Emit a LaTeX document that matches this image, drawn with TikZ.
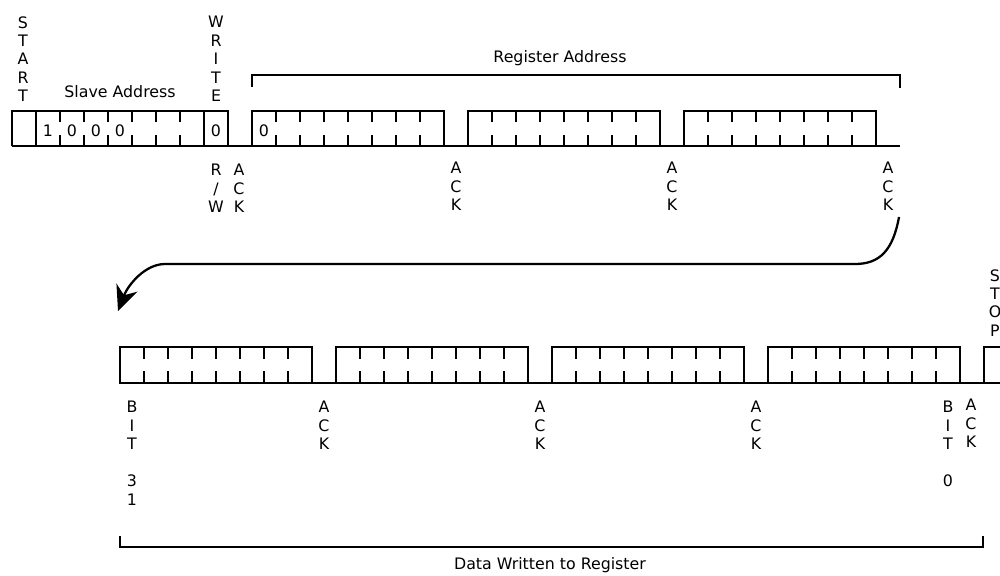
\documentclass[tikz,border=0pt]{standalone}
\usepackage{fontspec}
\setmainfont{DejaVu Sans}
\usetikzlibrary{arrows.meta}

\begin{document}
\begin{tikzpicture}[x=0.02cm,y=-0.02cm,line width=1.5pt,
    lbl/.style={inner sep=0pt,font=\fontsize{9}{10.5}\selectfont},
    vert/.style={lbl,align=center,anchor=north},
    bitval/.style={lbl}]
  \useasboundingbox (0,0) rectangle (1000,575);

  % first line: address phase
  \begin{scope}
    \draw (12,146) -- (900,146);
    \draw (12,146) -- (12,111) -- (228,111) -- (228,146);
    \foreach \x in {36, 204}
      \draw (\x,111) -- (\x,146);
    \foreach \x in {60, 84, ..., 180} {
      \draw (\x,111) -- (\x,122);
      \draw (\x,135) -- (\x,146);
    }

    % Register address bytes
    \foreach \s in {252, 468, 684} {
      \draw (\s,146) rectangle (\s+192,111);
      \foreach \k in {1,...,7} {
        \draw (\s+24*\k,111) -- (\s+24*\k,122);
        \draw (\s+24*\k,135) -- (\s+24*\k,146);
      }
    }

    % Bit values
    \node[bitval] (b1) at (48,131) {1};
    \node[bitval] (b2) at (72,131) {0};
    \node[bitval] (b3) at (96,131) {0};
    \node[bitval] (b4) at (120,131) {0};
    \node[bitval] (rw) at (216,131) {0};
    \node[bitval] (r0) at (264,131) {0};

    % Labels above
    \node[vert] (start) at (23,15) {S\\T\\A\\R\\T};
    \node[vert] (write) at (216,15) {W\\R\\I\\T\\E};
    \node[lbl] (slave) at (120,92) {Slave Address};
    \node[lbl] (regaddr) at (560,58) {Register Address};
    \draw (252,87) -- (252,75) -- (900,75) -- (900,88);

    % Labels below
    \node[vert] (rwlbl) at (216,163) {R\\/\\W};
    \node[vert] (ack0) at (239,163) {A\\C\\K};
    \foreach \x/\n in {456/1, 672/2, 888/3}
      \node[vert] (ack\n) at (\x,161) {A\\C\\K};
  \end{scope}

  % carry over to the second line
  \coordinate (turn) at (899,217);
  \coordinate (land) at (118,311);
  \draw[line width=1.3pt,-{Stealth[length=5mm,width=4.5mm]}] (turn)
    .. controls (893,250) and (880,264) .. (855,264) -- (165,264)
    .. controls (145,264) and (128,285) .. (land);

  % second line: data phase
  \begin{scope}
    \draw (120,383) -- (1000,383);
    \foreach \s in {120, 336, 552, 768} {
      \draw (\s,383) rectangle (\s+192,347);
      \foreach \k in {1,...,7} {
        \draw (\s+24*\k,347) -- (\s+24*\k,359);
        \draw (\s+24*\k,371) -- (\s+24*\k,383);
      }
    }
    \draw (984,383) -- (984,347) -- (1000,347);

    % Labels
    \node[vert] (stop) at (995,268) {S\\T\\O\\P};
    \node[vert] (bit31) at (132,400) {B\\I\\T\\ \\3\\1};
    \foreach \x/\n in {324/4, 540/5, 756/6}
      \node[vert] (ack\n) at (\x,400) {A\\C\\K};
    \node[vert] (bit0) at (948,400) {B\\I\\T\\ \\0};
    \node[vert] (ack7) at (971,398) {A\\C\\K};

    \draw (120,536) -- (120,547) -- (983,547) -- (983,536);
    \node[lbl] (data) at (550,565) {Data Written to Register};
  \end{scope}
\end{tikzpicture}
\end{document}
